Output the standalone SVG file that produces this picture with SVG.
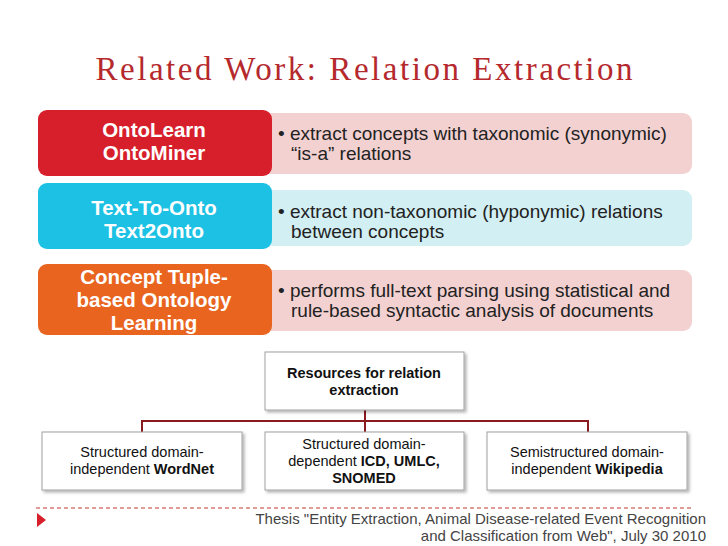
<svg xmlns="http://www.w3.org/2000/svg" width="728" height="546" viewBox="0 0 728 546">
<style>
.t{font-family:"Liberation Sans",Arial,sans-serif}
.lt{fill:#fff;font-weight:bold;font-size:20.5px;text-anchor:middle}
.rt{fill:#222;font-size:19px}
.bx{fill:#fff;stroke:#a0a0a0;stroke-width:1}
.bt{fill:#111;font-size:14.5px;text-anchor:middle}
</style>
<defs><filter id="sh" x="-10%" y="-10%" width="130%" height="130%"><feDropShadow dx="2" dy="2" stdDeviation="1.5" flood-opacity="0.3"/></filter></defs>
<rect width="728" height="546" fill="#fff"/>
<text x="364" y="80" text-anchor="middle" font-family="Liberation Serif,serif" font-size="33" fill="#b5292d" textLength="537" lengthAdjust="spacing">Related Work: Relation Extraction</text>
<g id="row1"><rect x="262" y="113" width="430" height="61" rx="9" fill="#f3d1d0"/><rect x="38" y="110" width="234" height="66" rx="9" fill="#d71f2b"/>
<text class="t lt" x="154" y="137">OntoLearn</text><text class="t lt" x="154" y="160">OntoMiner</text>
<text class="t rt" x="278" y="140">• extract concepts with taxonomic (synonymic)</text><text class="t rt" x="291" y="160">“is-a” relations</text></g>
<g id="row2"><rect x="262" y="190" width="430" height="56" rx="9" fill="#d2eff3"/><rect x="38" y="183" width="234" height="66" rx="9" fill="#1cc1e4"/>
<text class="t lt" x="154" y="215">Text-To-Onto</text><text class="t lt" x="154" y="238">Text2Onto</text>
<text class="t rt" x="278" y="218">• extract non-taxonomic (hyponymic) relations</text><text class="t rt" x="291" y="238">between concepts</text></g>
<g id="row3"><rect x="262" y="270" width="430" height="61" rx="9" fill="#f3d1d0"/><rect x="38" y="264" width="234" height="71" rx="9" fill="#e8641f"/>
<text class="t lt" x="154" y="284">Concept Tuple-</text><text class="t lt" x="154" y="307">based Ontology</text><text class="t lt" x="154" y="330">Learning</text>
<text class="t rt" x="278" y="297">• performs full-text parsing using statistical and</text><text class="t rt" x="291" y="317">rule-based syntactic analysis of documents</text></g>
<g id="connectors" fill="none" stroke="#8b1a1f" stroke-width="2"><path d="M365 410V432M142 432V421H588V432"/></g>
<g id="root"><rect class="bx" x="265" y="352" width="199" height="58" filter="url(#sh)"/>
<text class="t bt" x="364" y="378" font-weight="bold">Resources for relation</text><text class="t bt" x="364" y="395" font-weight="bold">extraction</text></g>
<g id="n1"><rect class="bx" x="42" y="432" width="200" height="58" filter="url(#sh)"/>
<text class="t bt" x="142" y="457">Structured domain-</text><text class="t bt" x="142" y="474">independent <tspan font-weight="bold">WordNet</tspan></text></g>
<g id="n2"><rect class="bx" x="265" y="432" width="199" height="58" filter="url(#sh)"/>
<text class="t bt" x="364" y="449">Structured domain-</text><text class="t bt" x="364" y="466">dependent  <tspan font-weight="bold">ICD, UMLC,</tspan></text><text class="t bt" x="364" y="483" font-weight="bold">SNOMED</text></g>
<g id="n3"><rect class="bx" x="487" y="432" width="200" height="58" filter="url(#sh)"/>
<text class="t bt" x="587" y="457">Semistructured domain-</text><text class="t bt" x="587" y="474">independent <tspan font-weight="bold">Wikipedia</tspan></text></g>
<line x1="36" y1="508" x2="692" y2="508" stroke="#c0392b" stroke-width="1" stroke-dasharray="4,3"/>
<polygon points="37,513 46,520 37,527" fill="#d71f2b"/>
<text class="t" x="706" y="524" text-anchor="end" font-size="15" fill="#444">Thesis "Entity Extraction, Animal Disease-related Event Recognition</text>
<text class="t" x="706" y="541" text-anchor="end" font-size="15" fill="#444">and Classification from Web", July 30 2010</text>
</svg>
